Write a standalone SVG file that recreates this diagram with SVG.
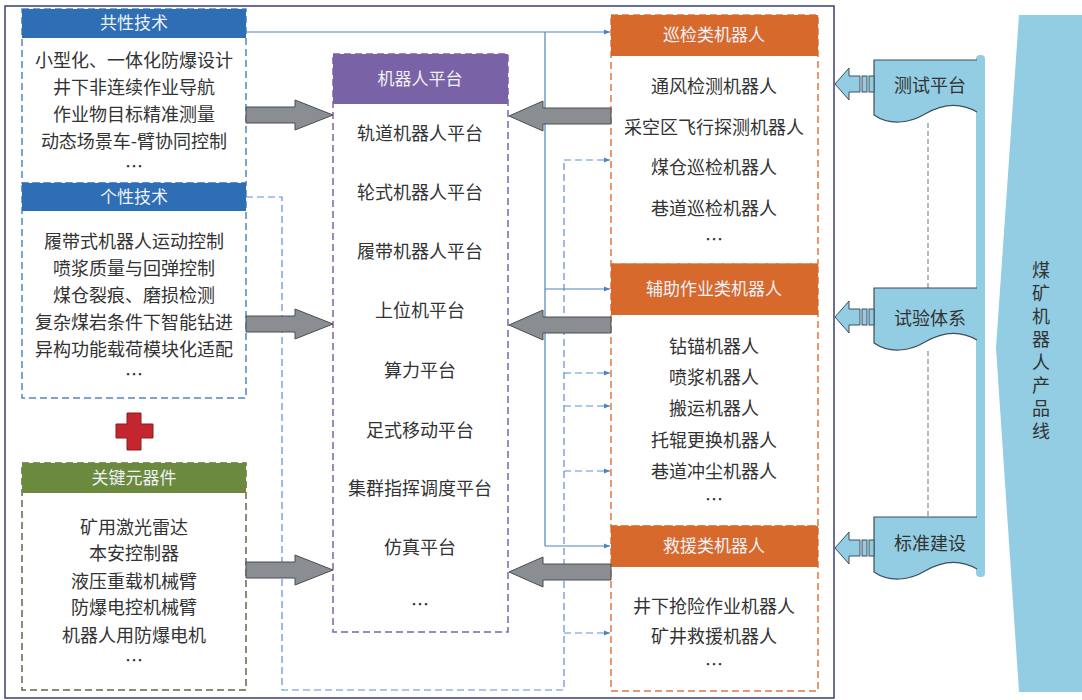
<svg xmlns="http://www.w3.org/2000/svg" width="1082" height="700" viewBox="0 0 1082 700">
<style>
.t{font-family:"Noto Sans CJK SC","Noto Sans",sans-serif;font-size:18px;fill:#333;text-anchor:middle}
.h{font-family:"Noto Sans CJK SC","Noto Sans",sans-serif;font-size:17px;fill:#eef2f8;text-anchor:middle}
.v{font-family:"Noto Sans CJK SC","Noto Sans",sans-serif;font-size:18px;fill:#333;writing-mode:vertical-rl;letter-spacing:5px}
.bbox{fill:#fff;stroke:#4f86c6;stroke-width:1.5;stroke-dasharray:7,4}
.pbox{fill:#fff;stroke:#7d62aa;stroke-width:1.5;stroke-dasharray:7,4}
.obox{fill:#fff;stroke:#e07a3e;stroke-width:1.5;stroke-dasharray:7,4}
.gbox{fill:#fff;stroke:#5f6b4a;stroke-width:1.5;stroke-dasharray:7,4}
.blk{fill:#8a8d91;stroke:#4a4d52;stroke-width:1}
.thin{fill:none;stroke:#4f81bd;stroke-width:1.2;marker-end:url(#ah)}
.thinn{fill:none;stroke:#4f81bd;stroke-width:1.2}
.dash{fill:none;stroke:#5b8fcf;stroke-width:1.2;stroke-dasharray:7,4}
.dasha{fill:none;stroke:#5b8fcf;stroke-width:1.2;stroke-dasharray:7,4;marker-end:url(#ah)}
.lb{fill:#92cde3}
.sarr{fill:#92cde3;stroke:#3d4f5c;stroke-width:1}
.gd{fill:none;stroke:#8a8a8a;stroke-width:1.2;stroke-dasharray:5,3}
.ln{fill:none;stroke:#3d4f5c;stroke-width:1.2}
</style>
<defs>
<marker id="ah" viewBox="0 0 10 10" refX="10" refY="5" markerWidth="6" markerHeight="6" markerUnits="userSpaceOnUse" orient="auto">
<path d="M0,1 L10,5 L0,9 Z" fill="#4f81bd"/>
</marker>
</defs>
<rect width="1082" height="700" fill="#fff"/>
<rect id="frame" x="5" y="6" width="829" height="692" fill="none" stroke="#3b3f6e" stroke-width="1.5"/>

<g id="product-line">
<path class="lb" d="M1019,15 H1082 V692 H1019 L996,348 Z"/>
<text class="v" x="1041" y="261">煤矿机器人产品线</text>
</g>

<g id="scroll-bar">
<rect class="lb" x="976" y="55" width="9" height="522" rx="4"/>
<path class="gd" d="M928,123 V288 M928,351 V517"/>
</g>

<g id="test-platform">
<path class="lb" d="M874,60 H977 V112 C960,102 942,104 925,114 C910,123 890,126 874,115 Z"/>
<path class="ln" d="M977,60 H874 V115 C890,126 910,123 925,114 C942,104 960,102 977,112"/>
<text class="t" x="930" y="92">测试平台</text>
<path class="sarr" d="M835,84 L849,68 V76 H860 V92 H849 V100 Z"/>
<rect class="sarr" x="862" y="76" width="5" height="16"/>
<rect class="sarr" x="869" y="76" width="5" height="16"/>
</g>

<g id="experiment-system">
<path class="lb" d="M874,288 H977 V340 C960,330 942,332 925,342 C910,351 890,354 874,343 Z"/>
<path class="ln" d="M977,288 H874 V343 C890,354 910,351 925,342 C942,332 960,330 977,340"/>
<text class="t" x="930" y="325">试验体系</text>
<path class="sarr" d="M835,317 L849,301 V309 H860 V325 H849 V333 Z"/>
<rect class="sarr" x="862" y="309" width="5" height="16"/>
<rect class="sarr" x="869" y="309" width="5" height="16"/>
</g>

<g id="standard-building">
<path class="lb" d="M874,517 H977 V569 C960,559 942,561 925,571 C910,580 890,583 874,572 Z"/>
<path class="ln" d="M977,517 H874 V572 C890,583 910,580 925,571 C942,561 960,559 977,569"/>
<text class="t" x="930" y="550">标准建设</text>
<path class="sarr" d="M835,548 L849,532 V540 H860 V556 H849 V564 Z"/>
<rect class="sarr" x="862" y="540" width="5" height="16"/>
<rect class="sarr" x="869" y="540" width="5" height="16"/>
</g>

<g id="common-tech">
<rect class="bbox" x="22" y="9" width="224" height="174"/>
<rect x="22" y="9" width="224" height="29" fill="#2d6eb5"/>
<text class="h" x="134" y="29">共性技术</text>
<text class="t"><tspan x="134" y="67">小型化、一体化防爆设计</tspan><tspan x="134" y="94">井下非连续作业导航</tspan><tspan x="134" y="121">作业物目标精准测量</tspan><tspan x="134" y="148">动态场景车-臂协同控制</tspan><tspan x="134" y="173">…</tspan></text>
</g>

<g id="specific-tech">
<rect class="bbox" x="22" y="183" width="224" height="215"/>
<rect x="22" y="183" width="224" height="28" fill="#2d6eb5"/>
<text class="h" x="134" y="203">个性技术</text>
<text class="t"><tspan x="134" y="248">履带式机器人运动控制</tspan><tspan x="134" y="275">喷浆质量与回弹控制</tspan><tspan x="134" y="302">煤仓裂痕、磨损检测</tspan><tspan x="134" y="329">复杂煤岩条件下智能钻进</tspan><tspan x="134" y="356">异构功能载荷模块化适配</tspan><tspan x="134" y="381">…</tspan></text>
</g>

<g id="plus">
<path d="M127,413 H141 V424 H153 V438 H141 V450 H127 V438 H116 V424 H127 Z" fill="#c3262e" stroke="#8e1a20" stroke-width="1"/>
</g>

<g id="key-components">
<rect class="gbox" x="22" y="463" width="224" height="227"/>
<rect x="22" y="463" width="224" height="30" fill="#6c8a3d"/>
<text class="h" x="134" y="484">关键元器件</text>
<text class="t"><tspan x="134" y="534">矿用激光雷达</tspan><tspan x="134" y="560">本安控制器</tspan><tspan x="134" y="588">液压重载机械臂</tspan><tspan x="134" y="614">防爆电控机械臂</tspan><tspan x="134" y="642">机器人用防爆电机</tspan><tspan x="134" y="667">…</tspan></text>
</g>

<g id="robot-platform">
<rect class="pbox" x="333" y="54" width="175" height="578"/>
<rect x="333" y="54" width="175" height="50" fill="#7a62a6"/>
<text class="h" x="420" y="85">机器人平台</text>
<text class="t"><tspan x="420" y="140">轨道机器人平台</tspan><tspan x="420" y="199">轮式机器人平台</tspan><tspan x="420" y="258">履带机器人平台</tspan><tspan x="420" y="317">上位机平台</tspan><tspan x="420" y="377">算力平台</tspan><tspan x="420" y="437">足式移动平台</tspan><tspan x="420" y="495">集群指挥调度平台</tspan><tspan x="420" y="554">仿真平台</tspan><tspan x="420" y="611">…</tspan></text>
</g>

<g id="inspection-robots">
<rect class="obox" x="611" y="15" width="207" height="249"/>
<rect x="611" y="15" width="207" height="41" fill="#d8692d"/>
<text class="h" x="714" y="41">巡检类机器人</text>
<text class="t"><tspan x="714" y="93">通风检测机器人</tspan><tspan x="714" y="134">采空区飞行探测机器人</tspan><tspan x="714" y="174">煤仓巡检机器人</tspan><tspan x="714" y="215">巷道巡检机器人</tspan><tspan x="714" y="246">…</tspan></text>
</g>

<g id="auxiliary-robots">
<rect class="obox" x="611" y="264" width="207" height="262"/>
<rect x="611" y="264" width="207" height="51" fill="#d8692d"/>
<text class="h" x="714" y="295">辅助作业类机器人</text>
<text class="t"><tspan x="714" y="353">钻锚机器人</tspan><tspan x="714" y="384">喷浆机器人</tspan><tspan x="714" y="415">搬运机器人</tspan><tspan x="714" y="447">托辊更换机器人</tspan><tspan x="714" y="478">巷道冲尘机器人</tspan><tspan x="714" y="506">…</tspan></text>
</g>

<g id="rescue-robots">
<rect class="obox" x="611" y="526" width="207" height="165"/>
<rect x="611" y="526" width="207" height="41" fill="#d8692d"/>
<text class="h" x="714" y="552">救援类机器人</text>
<text class="t"><tspan x="714" y="613">井下抢险作业机器人</tspan><tspan x="714" y="643">矿井救援机器人</tspan><tspan x="714" y="671">…</tspan></text>
</g>

<g id="connectors">
<path class="thin" d="M246,32 H610"/>
<path class="thinn" d="M545,32 V546"/>
<path class="thin" d="M545,289 H610"/>
<path class="thin" d="M545,546 H610"/>
<path class="dash" d="M246,197 H282 V690 H564 V160"/>
<path class="dasha" d="M564,160 H610"/>
<path class="dasha" d="M564,373 H610"/>
<path class="dasha" d="M564,406 H610"/>
<path class="dasha" d="M564,471 H610"/>
<path class="dasha" d="M564,633 H610"/>
<path class="blk" d="M246,107 H295 V100 L333,115 L295,130 V123 H246 Z"/>
<path class="blk" d="M246,316 H295 V309 L333,324 L295,339 V332 H246 Z"/>
<path class="blk" d="M246,562 H295 V555 L333,570 L295,585 V578 H246 Z"/>
<path class="blk" d="M611,108 H543 V101 L509,116 L543,131 V124 H611 Z"/>
<path class="blk" d="M611,317 H543 V310 L509,325 L543,340 V333 H611 Z"/>
<path class="blk" d="M611,564 H543 V557 L509,572 L543,587 V580 H611 Z"/>
</g>
</svg>
